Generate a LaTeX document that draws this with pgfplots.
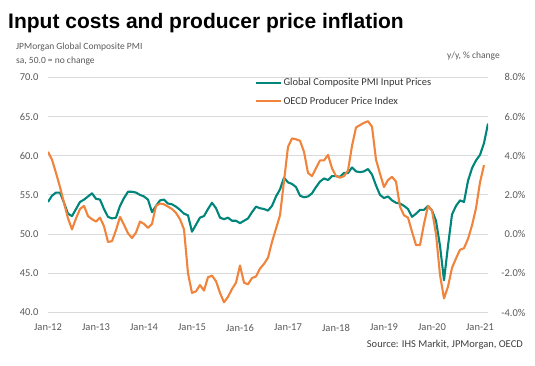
\documentclass[border=0pt]{standalone}
\usepackage{pgfplots}
\pgfplotsset{compat=1.18}
\usepackage{pgfplotstable}
\usepackage{fontspec}
\setmainfont{Carlito}
\newfontfamily\arialfont{Liberation Sans}
\definecolor{pmigreen}{HTML}{00857B}
\definecolor{ppiorange}{HTML}{F0843C}
\definecolor{txtgray}{HTML}{595959}
\definecolor{gridgray}{HTML}{D9D9D9}

\pgfplotstableread{
m v
0 54.1
1 54.9
2 55.3
3 55.3
4 54.0
5 52.6
6 52.3
7 53.2
8 54.1
9 54.4
10 54.8
11 55.2
12 54.5
13 54.4
14 53.2
15 52.2
16 52.0
17 52.1
18 53.6
19 54.6
20 55.4
21 55.4
22 55.3
23 55.0
24 54.8
25 54.4
26 52.8
27 53.6
28 54.3
29 54.4
30 53.9
31 53.8
32 53.5
33 53.1
34 52.6
35 52.4
36 50.3
37 51.2
38 52.1
39 52.3
40 53.2
41 54.0
42 53.3
43 52.1
44 51.9
45 52.1
46 51.7
47 51.7
48 51.4
49 51.7
50 52.0
51 52.8
52 53.5
53 53.3
54 53.2
55 53.0
56 53.6
57 54.8
58 55.7
59 57.2
60 56.6
61 56.4
62 56.0
63 54.9
64 54.7
65 54.8
66 55.2
67 56.0
68 56.7
69 57.1
70 56.9
71 57.4
72 57.4
73 57.3
74 57.8
75 57.8
76 58.5
77 58.0
78 57.9
79 58.0
80 58.3
81 57.6
82 56.2
83 55.0
84 54.6
85 54.8
86 54.3
87 54.0
88 53.9
89 53.6
90 53.2
91 52.2
92 52.6
93 53.1
94 53.1
95 53.6
96 53.0
97 51.7
98 48.5
99 44.1
100 48.5
101 52.5
102 53.6
103 54.3
104 54.1
105 56.8
106 58.4
107 59.4
108 60.1
109 61.6
110 64.1
}\pmitable

\pgfplotstableread{
m v
0 4.20
1 3.80
2 3.12
3 2.40
4 1.60
5 0.80
6 0.24
7 0.80
8 1.28
9 1.44
10 0.92
11 0.76
12 0.64
13 0.84
14 0.40
15 -0.40
16 -0.36
17 0.20
18 0.88
19 0.48
20 0.04
21 -0.20
22 0.08
23 0.64
24 0.52
25 0.32
26 0.52
27 1.44
28 1.56
29 1.52
30 1.40
31 1.28
32 1.08
33 0.76
34 0.24
35 -2.00
36 -3.00
37 -2.92
38 -2.60
39 -2.88
40 -2.20
41 -2.12
42 -2.40
43 -3.00
44 -3.48
45 -3.20
46 -2.80
47 -2.48
48 -1.60
49 -2.48
50 -2.56
51 -2.24
52 -2.16
53 -1.76
54 -1.52
55 -1.20
56 -0.40
57 0.28
58 0.96
59 2.70
60 4.45
61 4.88
62 4.84
63 4.76
64 4.20
65 3.12
66 2.96
67 3.36
68 3.76
69 3.76
70 4.04
71 3.36
72 2.96
73 2.88
74 2.96
75 3.24
76 4.50
77 5.44
78 5.56
79 5.68
80 5.76
81 5.48
82 3.80
83 3.08
84 2.40
85 2.76
86 2.92
87 2.68
88 1.40
89 0.96
90 0.84
91 0.12
92 -0.56
93 -0.56
94 0.52
95 1.44
96 1.20
97 0.00
98 -2.08
99 -3.28
100 -2.68
101 -1.72
102 -1.24
103 -0.80
104 -0.72
105 -0.24
106 0.44
107 1.32
108 2.64
109 3.52
}\ppitable

\begin{document}
\begin{tikzpicture}[x=1pt,y=1pt]
\pgfplotsset{
  commonax/.style={
    at={(48pt,52.5pt)}, anchor=south west,
    scale only axis, width=440pt, height=235.2pt,
    xmin=0, xmax=110,
    axis line style={draw=none},
    major tick length=0pt,
    tick label style={font=\fontsize{10.5}{12}\selectfont, text=txtgray},
    /pgf/number format/assume math mode=true,
  }
}
\begin{axis}[commonax,
  ymin=40, ymax=70, ytick={40,45,...,70},
  ymajorgrids, grid style={draw=gridgray, line width=0.9pt},
  yticklabel style={/pgf/number format/fixed, /pgf/number format/fixed zerofill, /pgf/number format/precision=1, xshift=-6pt},
  xtick={0,12,...,108},
  xticklabels={Jan-12,Jan-13,Jan-14,Jan-15,Jan-16,Jan-17,Jan-18,Jan-19,Jan-20,Jan-21},
  xticklabel style={yshift=-8pt},
]
\addplot[draw=pmigreen, line width=2.1pt, line join=round] table[x=m,y=v]{\pmitable};
\end{axis}
\begin{axis}[commonax,
  axis x line=none,
  axis y line*=right,
  ymin=-4, ymax=8, ytick={-4,-2,...,8},
  yticklabel={\pgfmathprintnumber[fixed,fixed zerofill,precision=1]{\tick}\%},
  yticklabel style={anchor=east, xshift=41pt},
  legend style={at={(0.463,1.012)}, anchor=north west, draw=none, fill=none,
    font=\fontsize{10.5}{12}\selectfont, text=txtgray!60!black, row sep=5.4pt,
    nodes={inner xsep=1.5pt}},
  legend cell align=left,
  legend image code/.code={\draw[#1] (0pt,0pt) -- (25pt,0pt);},
]
\addlegendimage{draw=pmigreen, line width=2.1pt}
\addlegendentry{Global Composite PMI Input Prices}
\addplot[draw=ppiorange, line width=2.1pt, line join=round] table[x=m,y=v]{\ppitable};
\addlegendentry{OECD Producer Price Index}
\end{axis}
\node[anchor=base west, inner sep=0pt, font=\arialfont\bfseries\fontsize{21}{24}\selectfont] at (8,336) {Input costs and producer price inflation};
\node[anchor=west, inner sep=0pt, text=txtgray, font=\fontsize{9.5}{11}\selectfont] at (16,318) {JPMorgan Global Composite PMI};
\node[anchor=west, inner sep=0pt, text=txtgray, font=\fontsize{9.5}{11}\selectfont] at (16,304) {sa, 50.0 = no change};
\node[anchor=east, inner sep=0pt, text=txtgray, font=\fontsize{9.5}{11}\selectfont] at (500,309) {y/y, \% change};
\node[anchor=east, inner sep=0pt, text=txtgray!70!black, font=\fontsize{10.5}{12}\selectfont] at (523,20.5) {Source: IHS Markit, JPMorgan, OECD};
\pgfresetboundingbox
\path[use as bounding box] (0,0) rectangle (535,365);
\end{tikzpicture}
\end{document}
